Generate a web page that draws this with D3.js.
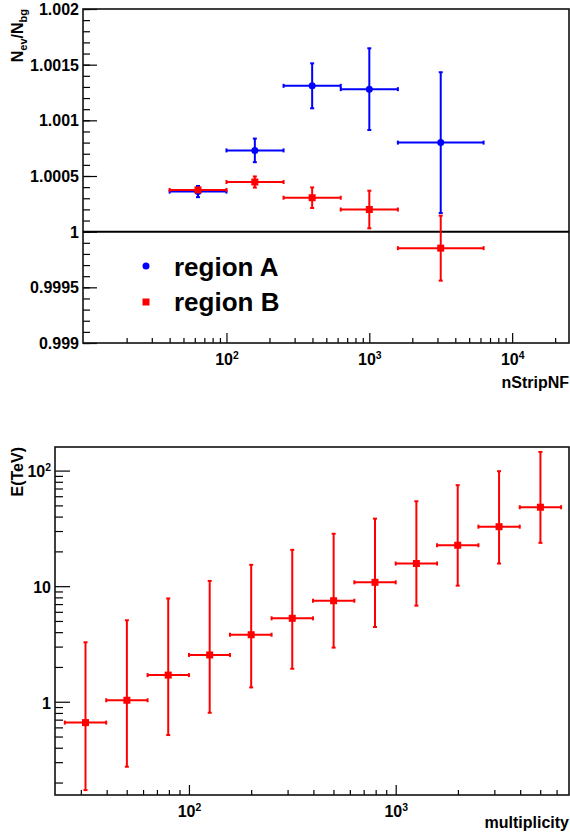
<!DOCTYPE html>
<html>
<head>
<meta charset="utf-8">
<script src="https://cdn.jsdelivr.net/npm/d3@7"></script>
<style>
  body { margin: 0; background: #fff; }
  text { font-family: "Liberation Sans", Arial, sans-serif; font-weight: bold; fill: #000; }
</style>
</head>
<body>
<script>
// ---- top panel: N_ev/N_bg vs nStripNF ----
var nStripCenter = [63.2, 158, 398, 1000, 3162];
var nStripLow = [40, 100, 251, 631, 1585];
var nStripHigh = [100, 251, 631, 1585, 6310];
var regionA = [1.00036, 1.00073, 1.00131, 1.00128, 1.00080];
var regionAErr = [0.00005, 0.000106, 0.000202, 0.000367, 0.000632];
var regionB = [1.000375, 1.000446, 1.000305, 1.000199, 0.999852];
var regionBErr = [0.000015, 0.00005, 0.0000925, 0.000169, 0.000292];
var topYTicks = [0.999, 0.9995, 1, 1.0005, 1.001, 1.0015, 1.002];
var topXTicks = [100, 1000, 10000];
var legendLabels = ["region A", "region B"];

// ---- bottom panel: E(TeV) vs multiplicity ----
var multiplicity = [31.6, 50.1, 79.4, 126, 200, 316, 501, 794, 1259, 1995, 3162, 5012];
var multLow = [25.1, 39.8, 63.1, 100, 158, 251, 398, 631, 1000, 1585, 2512, 3981];
var multHigh = [39.8, 63.1, 100, 158, 251, 398, 631, 1000, 1585, 2512, 3981, 6310];
var energy = [0.66, 1.03, 1.70, 2.54, 3.80, 5.27, 7.48, 10.8, 15.7, 22.6, 32.7, 48.2];
var energyTop = [3.27, 5.07, 7.83, 11.1, 15.3, 20.6, 28.4, 38.4, 54.3, 74.8, 98.8, 145];
var energyBottom = [0.172, 0.274, 0.515, 0.803, 1.33, 1.93, 2.94, 4.43, 6.78, 10.1, 15.7, 23.7];
var bottomYTicks = [1, 10, 100];
var bottomXTicks = [100, 1000];

var width = 570, height = 834;
var blue = "#0000ff", red = "#ff0000";

var svg = d3.select("body").append("svg")
    .attr("width", width)
    .attr("height", height);

// superscript labels like ROOT: 1, 10, 10^2 ...
function powerLabel(sel, size) {
    sel.each(function(d) {
        var t = d3.select(this);
        var exp = Math.round(Math.log10(d));
        t.text(null);
        if (exp === 0) { t.append("tspan").text("1"); return; }
        if (exp === 1) { t.append("tspan").text("10"); return; }
        t.append("tspan").text("10");
        t.append("tspan").attr("dy", "-0.6em").attr("font-size", size * 0.65).text(exp);
    });
}

function styleAxis(g) {
    g.select(".domain").remove();
    g.selectAll(".tick line").attr("stroke", "#000").attr("stroke-width", 1.2);
}

// draws crosses with caps; xs, x0s, x1s, ys, y0s, y1s arrays of values
function drawCrosses(g, x, y, xs, x0s, x1s, ys, y0s, y1s, color) {
    var cap = 2;
    var idx = d3.range(xs.length);
    var p = g.append("g").attr("stroke", color).attr("stroke-width", 2);
    p.selectAll(".hbar").data(idx).enter().append("line")
        .attr("x1", i => x(x0s[i])).attr("x2", i => x(x1s[i]))
        .attr("y1", i => y(ys[i])).attr("y2", i => y(ys[i]));
    p.selectAll(".vbar").data(idx).enter().append("line")
        .attr("x1", i => x(xs[i])).attr("x2", i => x(xs[i]))
        .attr("y1", i => y(y0s[i])).attr("y2", i => y(y1s[i]));
    // caps
    [x0s, x1s].forEach(function(arr) {
        p.selectAll(null).data(idx).enter().append("line")
            .attr("x1", i => x(arr[i])).attr("x2", i => x(arr[i]))
            .attr("y1", i => y(ys[i]) - cap).attr("y2", i => y(ys[i]) + cap);
    });
    [y0s, y1s].forEach(function(arr) {
        p.selectAll(null).data(idx).enter().append("line")
            .attr("x1", i => x(xs[i]) - cap).attr("x2", i => x(xs[i]) + cap)
            .attr("y1", i => y(arr[i])).attr("y2", i => y(arr[i]));
    });
}

// ================= top panel =================
var boxA = { left: 83, right: 569, top: 9, bottom: 343 };
var xTop = d3.scaleLog().domain([9.9, 25000]).range([boxA.left, boxA.right]);
var yTop = d3.scaleLinear().domain([0.999, 1.002]).range([boxA.bottom, boxA.top]);

var gTop = svg.append("g");

// minor + major ticks, y
gTop.append("g").attr("transform", `translate(${boxA.left},0)`)
    .call(d3.axisLeft(yTop).tickValues(yTop.ticks(30)).tickSizeInner(-7).tickSizeOuter(0).tickFormat(""))
    .call(styleAxis);
gTop.append("g").attr("transform", `translate(${boxA.left},0)`)
    .call(d3.axisLeft(yTop).tickValues(topYTicks).tickSizeInner(-14).tickSizeOuter(0).tickPadding(4).tickFormat(d => String(d)))
    .call(styleAxis)
    .call(g => g.selectAll("text").attr("font-size", 16).attr("dy", "0.35em"));

// x ticks
gTop.append("g").attr("transform", `translate(0,${boxA.bottom})`)
    .call(d3.axisBottom(xTop).tickValues(xTop.ticks().filter(d => topXTicks.indexOf(d) < 0 && d > 10)).tickSizeInner(-5).tickSizeOuter(0).tickFormat(""))
    .call(styleAxis);
gTop.append("g").attr("transform", `translate(0,${boxA.bottom})`)
    .call(d3.axisBottom(xTop).tickValues(topXTicks).tickSizeInner(-10).tickSizeOuter(0))
    .call(styleAxis)
    .call(g => g.selectAll("text").attr("font-size", 16).attr("y", 22).attr("dy", null).call(powerLabel, 16));

// frame
gTop.append("rect")
    .attr("x", boxA.left).attr("y", boxA.top)
    .attr("width", boxA.right - boxA.left).attr("height", boxA.bottom - boxA.top)
    .attr("fill", "none").attr("stroke", "#111").attr("stroke-width", 1.6);

// y = 1 line
gTop.append("line")
    .attr("x1", boxA.left).attr("x2", boxA.right)
    .attr("y1", yTop(1)).attr("y2", yTop(1))
    .attr("stroke", "#000").attr("stroke-width", 2);

drawCrosses(gTop, xTop, yTop, nStripCenter, nStripLow, nStripHigh, regionA,
    regionA.map((v, i) => v - regionAErr[i]), regionA.map((v, i) => v + regionAErr[i]), blue);
gTop.selectAll(".ptA").data(nStripCenter).enter().append("circle")
    .attr("cx", d => xTop(d)).attr("cy", (d, i) => yTop(regionA[i]))
    .attr("r", 3.5).attr("fill", blue);

drawCrosses(gTop, xTop, yTop, nStripCenter, nStripLow, nStripHigh, regionB,
    regionB.map((v, i) => v - regionBErr[i]), regionB.map((v, i) => v + regionBErr[i]), red);
gTop.selectAll(".ptB").data(nStripCenter).enter().append("rect")
    .attr("x", d => xTop(d) - 3.5).attr("y", (d, i) => yTop(regionB[i]) - 3.5)
    .attr("width", 7).attr("height", 7).attr("fill", red);

// legend
gTop.append("circle").attr("cx", 146).attr("cy", 266).attr("r", 3.5).attr("fill", blue);
gTop.append("rect").attr("x", 142.5).attr("y", 298.5).attr("width", 7).attr("height", 7).attr("fill", red);
gTop.selectAll(".leg").data(legendLabels).enter().append("text")
    .attr("x", 174).attr("y", (d, i) => 276 + i * 35)
    .attr("font-size", 26)
    .text(d => d);

// titles
var yTitleTop = gTop.append("text")
    .attr("transform", "translate(23,9) rotate(-90)")
    .attr("text-anchor", "end")
    .attr("font-size", 16);
yTitleTop.append("tspan").text("N");
yTitleTop.append("tspan").attr("font-size", 11).attr("dy", 4).text("ev");
yTitleTop.append("tspan").attr("dy", -4).text("/N");
yTitleTop.append("tspan").attr("font-size", 11).attr("dy", 4).text("bg");

gTop.append("text")
    .attr("x", 569).attr("y", 388)
    .attr("text-anchor", "end").attr("font-size", 16)
    .text("nStripNF");

// ================= bottom panel =================
var boxB = { left: 55, right: 569, top: 447, bottom: 795 };
var xBot = d3.scaleLog().domain([22.5, 6890]).range([boxB.left, boxB.right]);
var yBot = d3.scaleLog().domain([0.156, 160]).range([boxB.bottom, boxB.top]);

var gBot = svg.append("g");

gBot.append("g").attr("transform", `translate(${boxB.left},0)`)
    .call(d3.axisLeft(yBot).tickValues(yBot.ticks().filter(d => bottomYTicks.indexOf(d) < 0)).tickSizeInner(-8).tickSizeOuter(0).tickFormat(""))
    .call(styleAxis);
gBot.append("g").attr("transform", `translate(${boxB.left},0)`)
    .call(d3.axisLeft(yBot).tickValues(bottomYTicks).tickSizeInner(-15).tickSizeOuter(0).tickPadding(4))
    .call(styleAxis)
    .call(g => g.selectAll("text").attr("font-size", 16).attr("dy", "0.4em").call(powerLabel, 16));

gBot.append("g").attr("transform", `translate(0,${boxB.bottom})`)
    .call(d3.axisBottom(xBot).tickValues(xBot.ticks().filter(d => bottomXTicks.indexOf(d) < 0)).tickSizeInner(-5).tickSizeOuter(0).tickFormat(""))
    .call(styleAxis);
gBot.append("g").attr("transform", `translate(0,${boxB.bottom})`)
    .call(d3.axisBottom(xBot).tickValues(bottomXTicks).tickSizeInner(-10).tickSizeOuter(0))
    .call(styleAxis)
    .call(g => g.selectAll("text").attr("font-size", 16).attr("y", 22).attr("dy", null).call(powerLabel, 16));

gBot.append("rect")
    .attr("x", boxB.left).attr("y", boxB.top)
    .attr("width", boxB.right - boxB.left).attr("height", boxB.bottom - boxB.top)
    .attr("fill", "none").attr("stroke", "#111").attr("stroke-width", 1.6);

drawCrosses(gBot, xBot, yBot, multiplicity, multLow, multHigh, energy, energyBottom, energyTop, red);
gBot.selectAll(".ptE").data(multiplicity).enter().append("rect")
    .attr("x", d => xBot(d) - 3.5).attr("y", (d, i) => yBot(energy[i]) - 3.5)
    .attr("width", 7).attr("height", 7).attr("fill", red);

gBot.append("text")
    .attr("transform", `translate(23,${boxB.top}) rotate(-90)`)
    .attr("text-anchor", "end").attr("font-size", 16)
    .text("E(TeV)");

gBot.append("text")
    .attr("x", 569).attr("y", 828)
    .attr("text-anchor", "end").attr("font-size", 16)
    .text("multiplicity");
</script>
</body>
</html>
